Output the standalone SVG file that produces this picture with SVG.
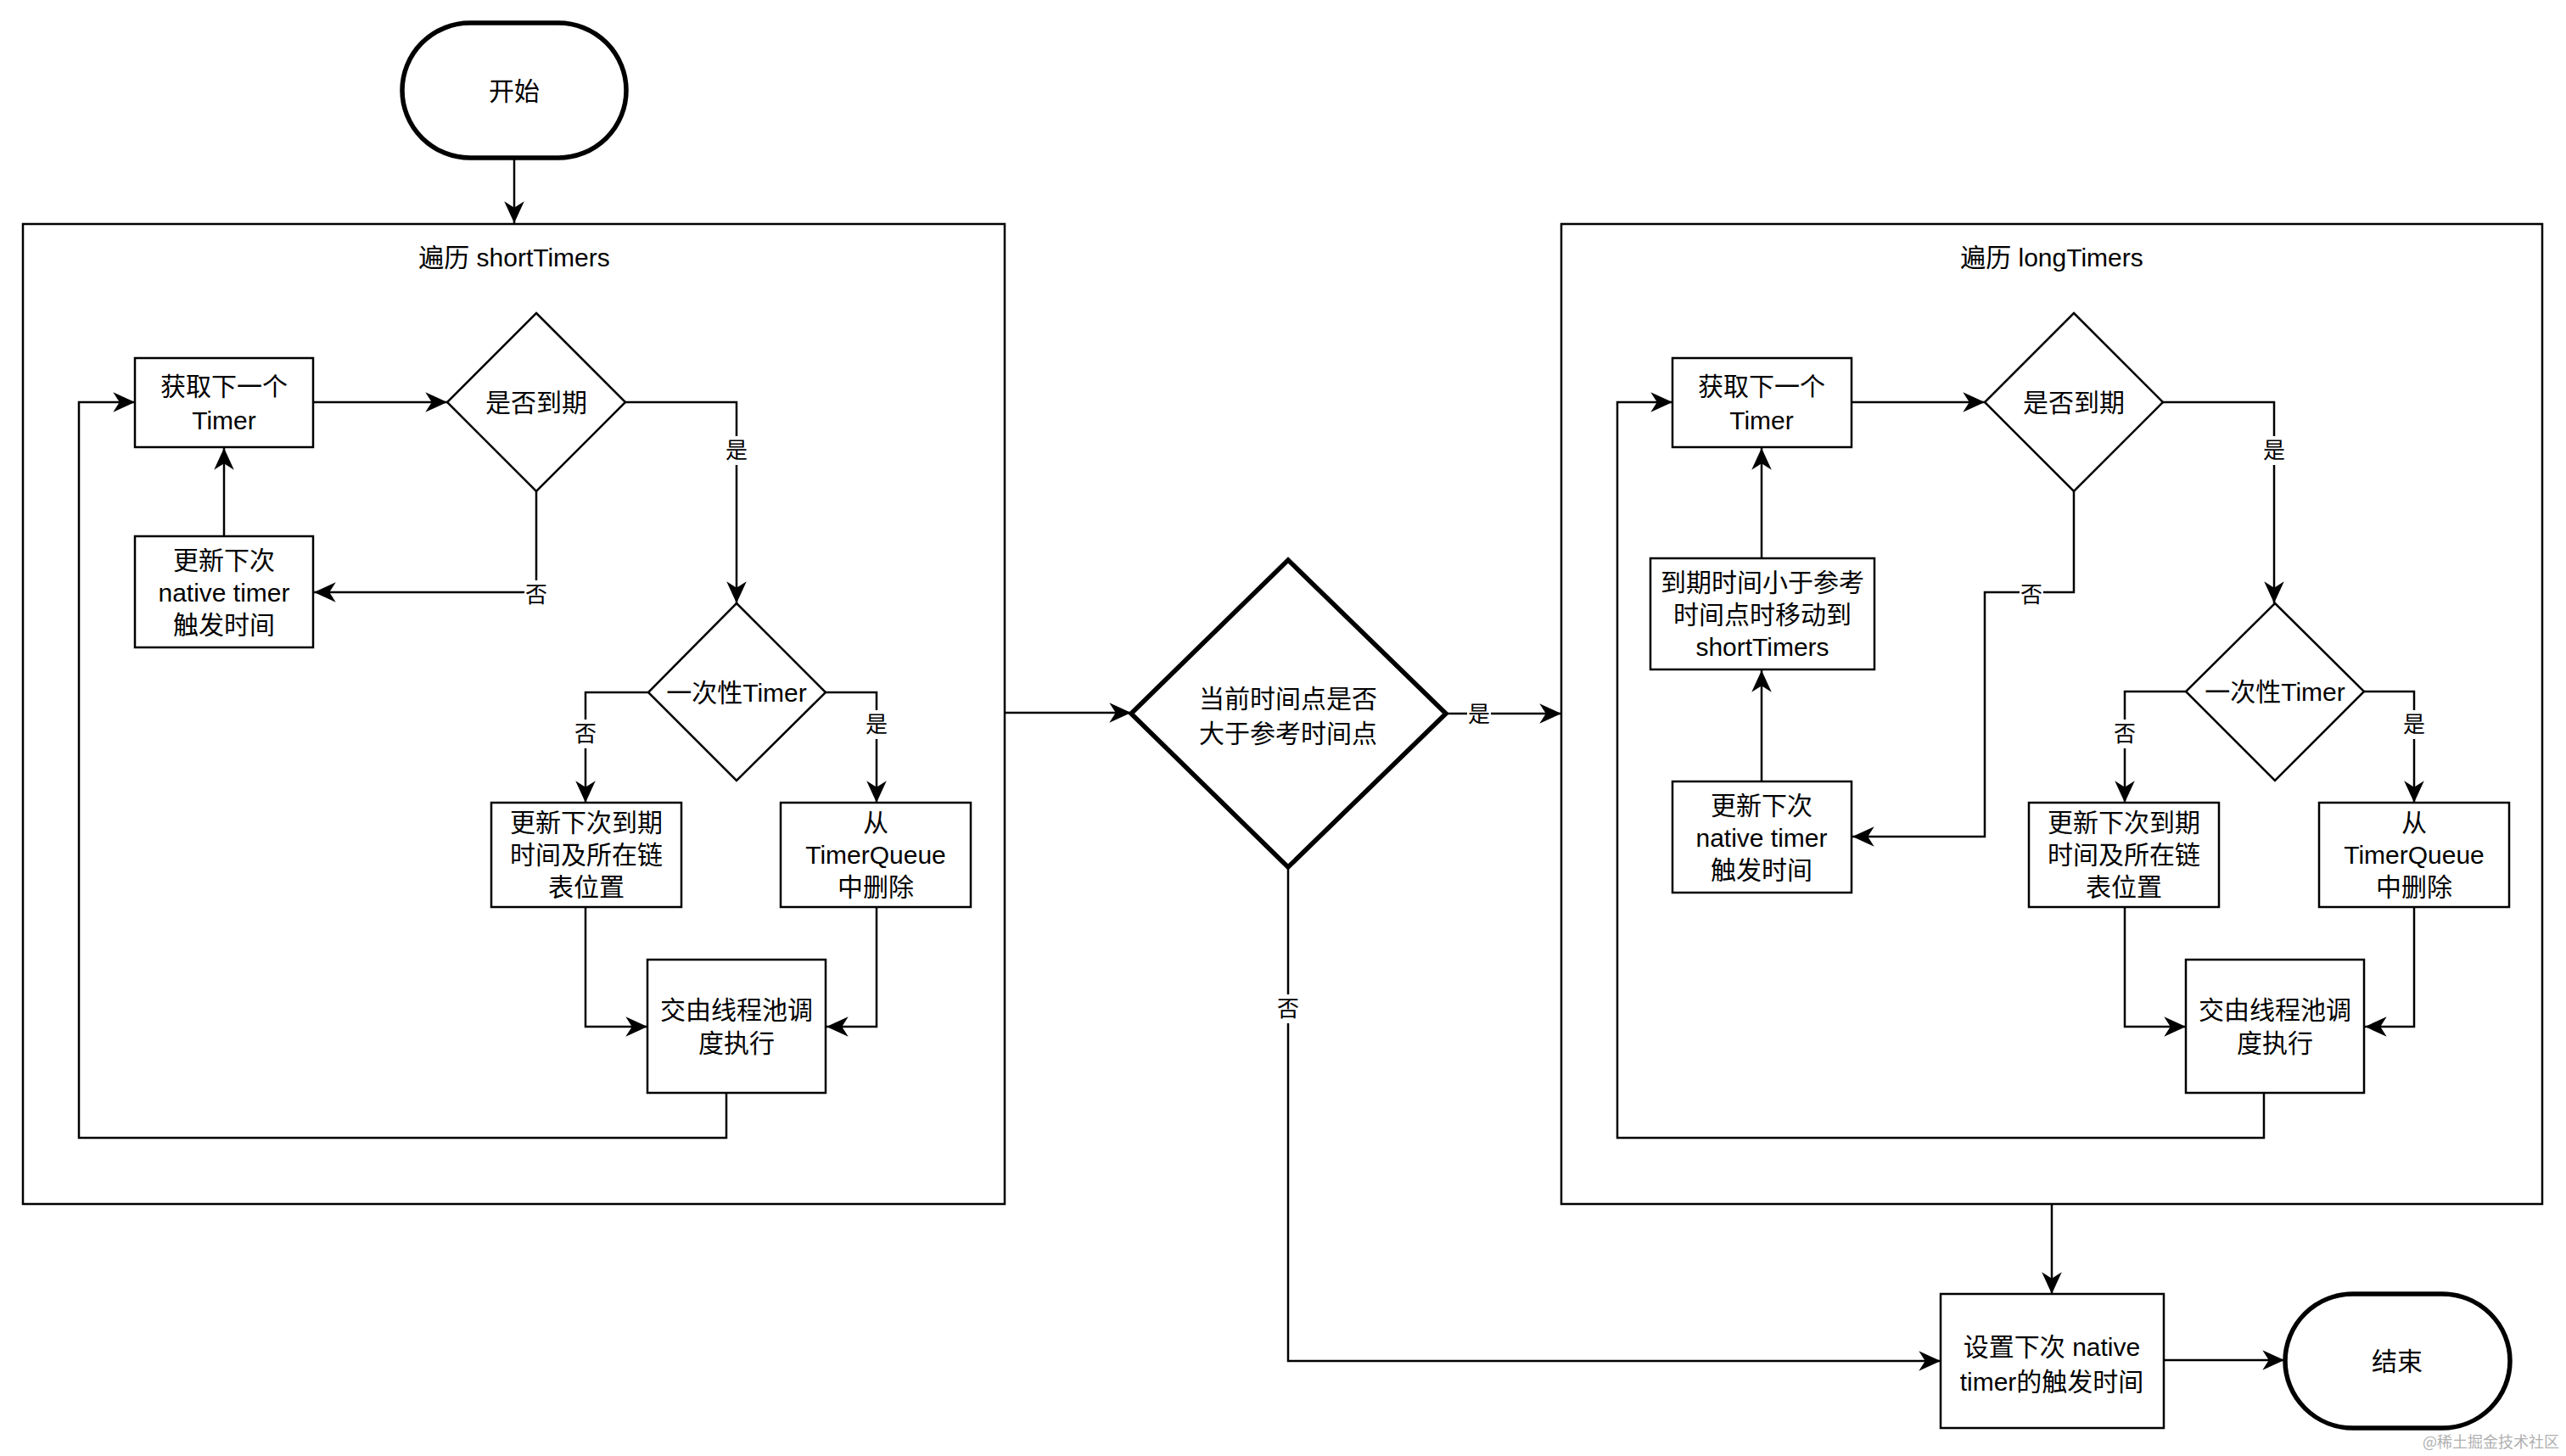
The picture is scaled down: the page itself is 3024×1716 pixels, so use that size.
<svg xmlns="http://www.w3.org/2000/svg" width="3024" height="1716" viewBox="0 0 3024 1716">
<defs>
<style>
.n{fill:#fff;stroke:#000;stroke-width:2.5}
.thick{fill:#fff;stroke:#000;stroke-width:5.5}
.c{fill:none;stroke:#000;stroke-width:2.5}
.t{font-family:"Liberation Sans","Noto Sans CJK SC",sans-serif;font-size:30px;fill:#000;text-anchor:middle;dominant-baseline:central}
.l{font-family:"Liberation Sans","Noto Sans CJK SC",sans-serif;font-size:26px;fill:#000;text-anchor:middle;dominant-baseline:central}
.bg{fill:#fff;stroke:none}
.wm{font-family:"Noto Sans CJK SC",sans-serif;font-size:18px;fill:#b0b0b0;text-anchor:end}
</style>
<marker id="arr" markerUnits="userSpaceOnUse" markerWidth="30" markerHeight="30" viewBox="-26 -13 28 26" refX="0" refY="0" orient="auto">
<path d="M0,0 L-24,-11 L-17,0 L-24,11 Z" fill="#000"/>
</marker>
</defs>
<rect width="3024" height="1716" fill="#fff"/>

<g id="shortTimers">
<rect class="n" x="27" y="264" width="1157" height="1155"/>
<text class="t" x="606" y="303">遍历 shortTimers</text>
</g>
<g id="longTimers">
<rect class="n" x="1840" y="264" width="1156" height="1155"/>
<text class="t" x="2418" y="303">遍历 longTimers</text>
</g>

<g id="connectors">
<path class="c" d="M606,187 L606,263" marker-end="url(#arr)"/>
<!-- left -->
<path class="c" d="M369,474 L527,474" marker-end="url(#arr)"/>
<path class="c" d="M737,474 L868,474 L868,711" marker-end="url(#arr)"/>
<path class="c" d="M632,579 L632,698 L370,698" marker-end="url(#arr)"/>
<path class="c" d="M264,632 L264,528" marker-end="url(#arr)"/>
<path class="c" d="M764,816 L690,816 L690,946" marker-end="url(#arr)"/>
<path class="c" d="M973,816 L1033,816 L1033,946" marker-end="url(#arr)"/>
<path class="c" d="M690,1069 L690,1210 L763,1210" marker-end="url(#arr)"/>
<path class="c" d="M1033,1069 L1033,1210 L974,1210" marker-end="url(#arr)"/>
<path class="c" d="M856,1288 L856,1341 L93,1341 L93,474 L159,474" marker-end="url(#arr)"/>
<!-- middle -->
<path class="c" d="M1184,840 L1333,840" marker-end="url(#arr)"/>
<path class="c" d="M1704,841 L1840,841" marker-end="url(#arr)"/>
<path class="c" d="M1518,1022 L1518,1604 L2287,1604" marker-end="url(#arr)"/>
<path class="c" d="M2418,1419 L2418,1525" marker-end="url(#arr)"/>
<path class="c" d="M2550,1603 L2692,1603" marker-end="url(#arr)"/>
<!-- right -->
<path class="c" d="M2182,474 L2339,474" marker-end="url(#arr)"/>
<path class="c" d="M2549,474 L2680,474 L2680,711" marker-end="url(#arr)"/>
<path class="c" d="M2444,579 L2444,698 L2339,698 L2339,986 L2183,986" marker-end="url(#arr)"/>
<path class="c" d="M2076,921 L2076,790" marker-end="url(#arr)"/>
<path class="c" d="M2076,658 L2076,528" marker-end="url(#arr)"/>
<path class="c" d="M2576,815 L2504,815 L2504,946" marker-end="url(#arr)"/>
<path class="c" d="M2786,815 L2845,815 L2845,946" marker-end="url(#arr)"/>
<path class="c" d="M2504,1069 L2504,1210 L2576,1210" marker-end="url(#arr)"/>
<path class="c" d="M2845,1069 L2845,1210 L2787,1210" marker-end="url(#arr)"/>
<path class="c" d="M2668,1288 L2668,1341 L1906,1341 L1906,474 L1971,474" marker-end="url(#arr)"/>
<!-- labels -->
<rect class="bg" x="854" y="514" width="28" height="34"/><text class="l" x="868" y="531">是</text>
<rect class="bg" x="618" y="684" width="28" height="34"/><text class="l" x="632" y="701">否</text>
<rect class="bg" x="676" y="848" width="28" height="34"/><text class="l" x="690" y="865">否</text>
<rect class="bg" x="1019" y="837" width="28" height="34"/><text class="l" x="1033" y="854">是</text>
<rect class="bg" x="1729" y="826" width="28" height="32"/><text class="l" x="1743" y="842">是</text>
<rect class="bg" x="1504" y="1172" width="28" height="34"/><text class="l" x="1518" y="1189">否</text>
<rect class="bg" x="2666" y="514" width="28" height="34"/><text class="l" x="2680" y="531">是</text>
<rect class="bg" x="2380" y="684" width="28" height="34"/><text class="l" x="2394" y="701">否</text>
<rect class="bg" x="2490" y="848" width="28" height="34"/><text class="l" x="2504" y="865">否</text>
<rect class="bg" x="2831" y="837" width="28" height="34"/><text class="l" x="2845" y="854">是</text>
</g>

<g id="start">
<rect class="thick" x="474" y="27" width="264" height="159" rx="80" ry="80"/>
<text class="t" x="606" y="107">开始</text>
</g>

<g id="s_next">
<rect class="n" x="159" y="422" width="210" height="105"/>
<text class="t" x="264" y="455">获取下一个</text>
<text class="t" x="264" y="495">Timer</text>
</g>
<g id="s_due">
<polygon class="n" points="632,369 737,474 632,579 527,474"/>
<text class="t" x="632" y="474">是否到期</text>
</g>
<g id="s_native">
<rect class="n" x="159" y="632" width="210" height="131"/>
<text class="t" x="264" y="660">更新下次</text>
<text class="t" x="264" y="698">native timer</text>
<text class="t" x="264" y="736">触发时间</text>
</g>
<g id="s_once">
<polygon class="n" points="868,711 973,816 868,920 764,816"/>
<text class="t" x="868" y="816">一次性Timer</text>
</g>
<g id="s_update">
<rect class="n" x="579" y="946" width="224" height="123"/>
<text class="t" x="691" y="969">更新下次到期</text>
<text class="t" x="691" y="1007">时间及所在链</text>
<text class="t" x="691" y="1045">表位置</text>
</g>
<g id="s_remove">
<rect class="n" x="920" y="946" width="224" height="123"/>
<text class="t" x="1032" y="969">从</text>
<text class="t" x="1032" y="1007">TimerQueue</text>
<text class="t" x="1032" y="1045">中删除</text>
</g>
<g id="s_exec">
<rect class="n" x="763" y="1131" width="210" height="157"/>
<text class="t" x="868" y="1190">交由线程池调</text>
<text class="t" x="868" y="1229">度执行</text>
</g>

<g id="check">
<polygon class="thick" points="1518,660 1704,841 1518,1022 1333,841"/>
<text class="t" x="1518" y="823">当前时间点是否</text>
<text class="t" x="1518" y="864">大于参考时间点</text>
</g>

<g id="l_next">
<rect class="n" x="1971" y="422" width="211" height="105"/>
<text class="t" x="2076" y="455">获取下一个</text>
<text class="t" x="2076" y="495">Timer</text>
</g>
<g id="l_due">
<polygon class="n" points="2444,369 2549,474 2444,579 2339,474"/>
<text class="t" x="2444" y="474">是否到期</text>
</g>
<g id="l_move">
<rect class="n" x="1945" y="658" width="264" height="131"/>
<text class="t" x="2077" y="686">到期时间小于参考</text>
<text class="t" x="2077" y="724">时间点时移动到</text>
<text class="t" x="2077" y="762">shortTimers</text>
</g>
<g id="l_native">
<rect class="n" x="1971" y="921" width="211" height="131"/>
<text class="t" x="2076" y="949">更新下次</text>
<text class="t" x="2076" y="987">native timer</text>
<text class="t" x="2076" y="1025">触发时间</text>
</g>
<g id="l_once">
<polygon class="n" points="2681,711 2786,815 2681,920 2576,815"/>
<text class="t" x="2681" y="815">一次性Timer</text>
</g>
<g id="l_update">
<rect class="n" x="2391" y="946" width="224" height="123"/>
<text class="t" x="2503" y="969">更新下次到期</text>
<text class="t" x="2503" y="1007">时间及所在链</text>
<text class="t" x="2503" y="1045">表位置</text>
</g>
<g id="l_remove">
<rect class="n" x="2733" y="946" width="224" height="123"/>
<text class="t" x="2845" y="969">从</text>
<text class="t" x="2845" y="1007">TimerQueue</text>
<text class="t" x="2845" y="1045">中删除</text>
</g>
<g id="l_exec">
<rect class="n" x="2576" y="1131" width="210" height="157"/>
<text class="t" x="2681" y="1190">交由线程池调</text>
<text class="t" x="2681" y="1229">度执行</text>
</g>

<g id="set_native">
<rect class="n" x="2287" y="1525" width="263" height="158"/>
<text class="t" x="2418" y="1587">设置下次 native</text>
<text class="t" x="2418" y="1628">timer的触发时间</text>
</g>
<g id="end">
<rect class="thick" x="2693" y="1525" width="265" height="158" rx="80" ry="79"/>
<text class="t" x="2825" y="1604">结束</text>
</g>

<text class="wm" x="3016" y="1706">@稀土掘金技术社区</text>
</svg>
